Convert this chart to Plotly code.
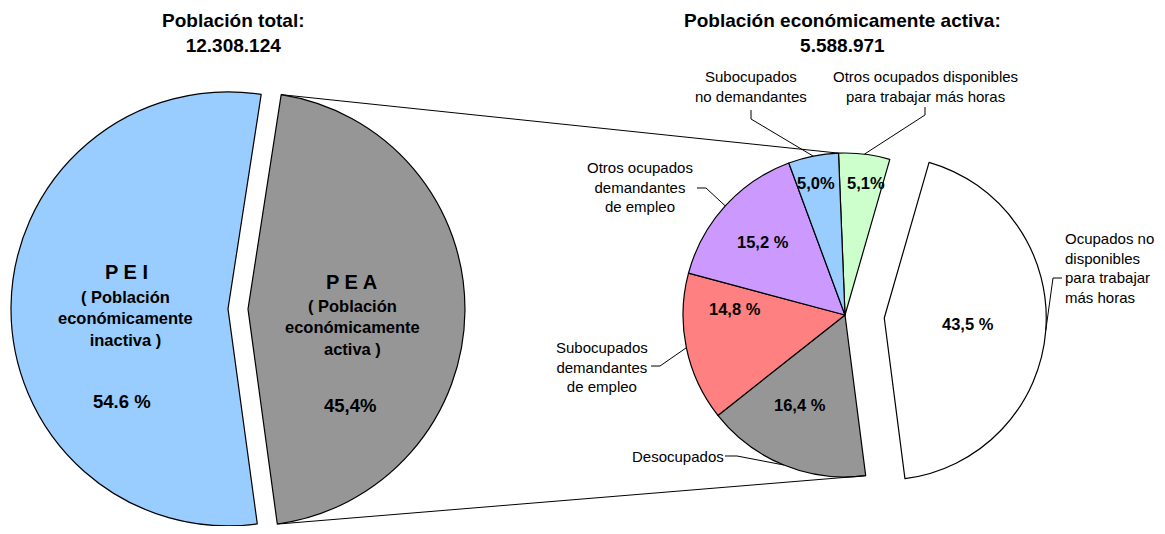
import math
import plotly.graph_objects as go

# page is 1165x534; the html body keeps its default 8px margin
PAGE_W, PAGE_H, OFF = 1165, 534, 8
FW, FH = PAGE_W - 2 * OFF, PAGE_H - 2 * OFF
FONT = "Liberation Sans, Arial, sans-serif"

# --- data: población total ---
total_title = "Población total:<br>12.308.124"
total_names = ["PEA", "PEI"]
total_values = [45.4, 54.6]
total_heads = ["P E A", "P E I"]
total_subs = ["( Población<br>económicamente<br>activa )",
              "( Población<br>económicamente<br>inactiva )"]
total_pct = ["45,4%", "54.6 %"]

# --- data: población económicamente activa ---
pea_title = "Población económicamente activa:<br>5.588.971"
pea_names = ["Otros ocupados disponibles<br>para trabajar más horas",
             "Ocupados no<br>disponibles<br>para trabajar<br>más horas",
             "Desocupados",
             "Subocupados<br>demandantes<br>de empleo",
             "Otros ocupados<br>demandantes<br>de empleo",
             "Subocupados<br>no demandantes"]
pea_values = [5.1, 43.5, 16.4, 14.8, 15.2, 5.0]
pea_pct = ["5,1%", "43,5 %", "16,4 %", "14,8 %", "15,2 %", "5,0%"]

# --- styling / layout (page pixels) ---
total_colors = ["#969696", "#99CCFF"]
pea_colors = ["#CCFFCC", "#FFFFFF", "#969696", "#FF8080", "#CC99FF", "#99CCFF"]
CLEAR = "rgba(0,0,0,0)"

L_CX, L_CY, L_R, L_ROT, L_GAP = 238, 309, 217, 8.8, 10
R_CX, R_CY, R_R, R_ROT = 845, 315, 162, -2.3
R_PULL = [0, 0.243, 0, 0, 0, 0]

total_head_pos = [(351, 282), (126, 272)]
total_sub_pos = [(352.5, 327), (125.5, 318.5)]
total_pct_pos = [(350, 405), (121.5, 401)]

pea_pct_pos = [(866, 183), (968, 324), (800, 405), (735, 309), (763, 242), (815.5, 183)]
# label position, anchor, elbow points of leader line
pea_lbl = [
    ((925, 86.5), "center", [(925, 107), (925, 115)]),
    ((1063, 268.3), "left", [(1062, 278), (1053, 278)]),
    ((677.5, 456), "center", [(725, 456), (737, 456)]),
    ((601.7, 367.3), "center", [(651, 366), (660, 366)]),
    ((640, 187.3), "center", [(697, 188), (706, 188)]),
    ((750.8, 86.8), "center", [(751, 110), (751, 119)]),
]


def pp(x, y):
    return (x - OFF) / FW, 1 - (y - OFF) / FH


def domain(cx, cy, half):
    x0, y1 = pp(cx - half, cy - half)
    x1, y0 = pp(cx + half, cy + half)
    return dict(x=[max(0, x0), min(1, x1)], y=[max(0, y0), min(1, y1)])


def angles(values, rot):
    tot = sum(values)
    out, a = [], rot
    for v in values:
        da = 360 * v / tot
        out.append((a, a + da))
        a += da
    return out


def point(cx, cy, r, ang):
    return cx + r * math.sin(math.radians(ang)), cy - r * math.cos(math.radians(ang))


fig = go.Figure()

# left pie: each slice drawn by its own trace so the two halves sit apart
l_ang = angles(total_values, L_ROT)
l_apex = []
for i in range(len(total_values)):
    mid = sum(l_ang[i]) / 2
    ax, ay = point(L_CX, L_CY, L_GAP, mid)
    l_apex.append((ax, ay))
    cols = [total_colors[j] if j == i else CLEAR for j in range(len(total_values))]
    lines = ["black" if j == i else CLEAR for j in range(len(total_values))]
    fig.add_trace(go.Pie(
        labels=total_names, values=total_values, sort=False, direction="clockwise",
        rotation=L_ROT, textinfo="none", showlegend=False, hoverinfo="skip",
        marker=dict(colors=cols, line=dict(color=lines, width=1.2)),
        domain=domain(ax, ay, L_R),
    ))

fig.add_trace(go.Pie(
    labels=[n.replace("<br>", " ") for n in pea_names], values=pea_values,
    sort=False, direction="clockwise", rotation=R_ROT, pull=R_PULL,
    textinfo="none", showlegend=False,
    marker=dict(colors=pea_colors, line=dict(color="black", width=1.2)),
    domain=domain(R_CX, R_CY, R_R * (1 + max(R_PULL))),
))

ann = []


def text(x, y, s, size, bold=False, xanchor="center"):
    px_, py_ = pp(x, y)
    ann.append(dict(x=px_, y=py_, xref="paper", yref="paper", text=f"<b>{s}</b>" if bold else s,
                    showarrow=False, xanchor=xanchor, yanchor="middle", align=xanchor,
                    font=dict(family=FONT, size=size, color="black")))


text(233, 33, total_title, 19, True)
text(842, 33, pea_title, 19, True)

for i in range(len(total_values)):
    text(*total_head_pos[i], total_heads[i], 20, True)
    text(*total_sub_pos[i], total_subs[i], 16.5, True)
    text(*total_pct_pos[i], total_pct[i], 18.5, True)

shapes = []
r_ang = angles(pea_values, R_ROT)
for i in range(len(pea_values)):
    text(*pea_pct_pos[i], pea_pct[i], 16.5, True)
    (lx, ly), anchor, elbow = pea_lbl[i]
    text(lx, ly, pea_names[i], 15, False, anchor)
    mid = sum(r_ang[i]) / 2
    cx, cy = point(R_CX, R_CY, R_PULL[i] * R_R, mid)
    end = point(cx, cy, R_R, mid)
    pts = [pp(*p) for p in elbow + [end]]
    path = "M " + " L ".join(f"{x:.5f},{y:.5f}" for x, y in pts)
    shapes.append(dict(type="path", path=path, xref="paper", yref="paper",
                       line=dict(color="black", width=1)))

# connector lines from the PEA slice to the breakdown pie
top_a = point(*l_apex[0], L_R, l_ang[0][0])
bot_a = point(*l_apex[0], L_R, l_ang[0][1])
top_b = point(R_CX, R_CY, R_R, r_ang[0][0])
bot_b = point(R_CX, R_CY, R_R, r_ang[1][1])
for a, b in [(top_a, top_b), (bot_a, bot_b)]:
    x0, y0 = pp(*a)
    x1, y1 = pp(*b)
    shapes.append(dict(type="line", x0=x0, y0=y0, x1=x1, y1=y1, xref="paper", yref="paper",
                       line=dict(color="black", width=1)))

fig.update_layout(
    width=FW, height=FH, margin=dict(l=0, r=0, t=0, b=0),
    paper_bgcolor="white", plot_bgcolor="white",
    annotations=ann, shapes=shapes,
    font=dict(family=FONT),
)

fig.write_html("out.html")
